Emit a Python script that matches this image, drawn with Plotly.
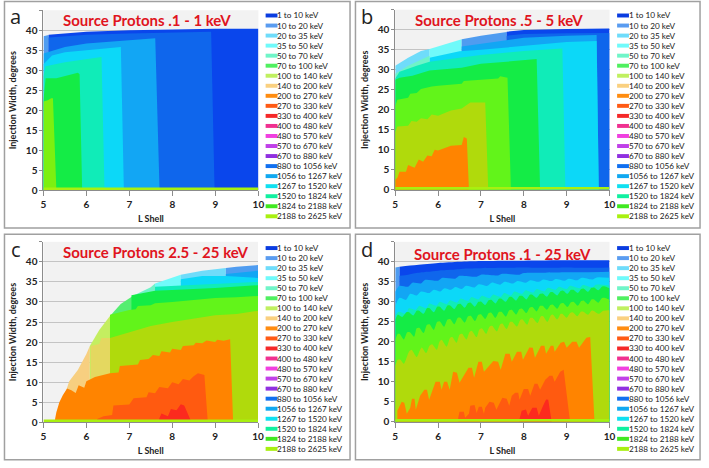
import plotly.graph_objects as go

W, H = 709, 468

legend_labels = [
    "1 to 10 keV", "10 to 20 keV", "20 to 35 keV", "35 to 50 keV", "50 to 70 keV",
    "70 to 100 keV", "100 to 140 keV", "140 to 200 keV", "200 to 270 keV", "270 to 330 keV",
    "330 to 400 keV", "400 to 480 keV", "480 to 570 keV", "570 to 670 keV", "670 to 880 keV",
    "880 to 1056 keV", "1056 to 1267 keV", "1267 to 1520 keV", "1520 to 1824 keV",
    "1824 to 2188 keV", "2188 to 2625 keV",
]
legend_colors = [
    "#0a3ce0", "#5a9cf0", "#6fdcfa", "#70fafa", "#70f5c8", "#50f060", "#c0f060", "#fad080",
    "#ff8c10", "#ff5a14", "#f52828", "#f03090", "#f040e0", "#c040e8", "#9030e0", "#1070f0",
    "#10a8f0", "#10e0f0", "#10f0a0", "#40e820", "#a8f010",
]

# colours as they look inside the plots
DEEP, ROYAL, SKY, CYAN, TEAL, GREEN = "#0a46ec", "#0f66ec", "#12a6f4", "#0cd8f8", "#10ecb8", "#14ec46"
LIME, OLIVE, ORANGE, REDOR, RED, STRIPE = "#62f41a", "#b0da0c", "#ff8400", "#ff5a10", "#fc2a1e", "#a8f010"
P_BLUE, P_CYAN, P_AQUA, P_TEAL, P_GREEN, P_LIME, P_TAN, P_OLIVE = (
    "#4f9cf0", "#6fdcfa", "#70fafa", "#6ff3c8", "#55ee70", "#c4ee60", "#f7cf80", "#e4d860")

# --- panel a: L shell / injection width outlines
a_pale_L = [5, 5.12]
a_pale_w = [38.5, 38.8]
a_deep_L = [5.12, 6, 7, 8, 9, 10]
a_deep_w = [38.9, 39.6, 40, 40.2, 40.4, 40.4]
a_royal_L = [5.12, 6, 7, 8, 8.9, 8.98]
a_royal_w = [38.2, 38.9, 39.2, 39.4, 39.6, 0]
a_sky_L = [5, 5.5, 6, 7, 7.6, 7.7]
a_sky_w = [34.2, 35.8, 36.7, 37.4, 38, 0]
a_cyan_L = [5, 5.2, 5.5, 6, 6.8, 6.87]
a_cyan_w = [31.5, 33.7, 34.5, 35, 35.8, 0]
a_teal_L = [5, 5.05, 5.5, 6, 6.35, 6.42]
a_teal_w = [28.5, 31, 32, 32.8, 33.3, 0]
a_green_L = [5, 5.05, 5.3, 5.5, 5.8, 5.84, 5.9]
a_green_w = [22.5, 28, 28, 28.5, 29.4, 29, 0]
a_lime_L = [5, 5.1, 5.18, 5.22, 5.3]
a_lime_w = [22.2, 22.5, 23, 23, 0]

# --- panel b
b_top1_L = [5, 5.3, 5.6, 5.8]
b_top1_w = [31, 33, 34.7, 35.2]
b_top2_L = [5.8, 6.2, 6.55]
b_top2_w = [35.2, 36.5, 37.6]
b_top3_L = [6.55, 7, 7.6]
b_top3_w = [37.6, 38.5, 39.4]
b_deep_L = [7.6, 8, 9, 10]
b_deep_w = [39.5, 39.9, 40.2, 40.3]
b_royal_L = [7.6, 8, 9, 10]
b_royal_w = [38.5, 38.9, 39.1, 39.2]
b_sky_L = [6.55, 7, 7.6, 8, 9, 9.7, 9.75]
b_sky_w = [35.8, 36.5, 37.5, 38, 38.5, 38.7, 0]
b_cyan_L = [5.8, 6.5, 7, 8, 9, 9.7, 9.75]
b_cyan_w = [33, 34.6, 35, 36, 36.9, 37.2, 0]
b_pteal_L = [5, 5.3, 5.8]
b_pteal_w = [29, 31, 33.5]
b_teal_L = [5, 5.1, 5.5, 5.8, 6.5, 7, 7.5, 8, 8.9, 8.97]
b_teal_w = [27.8, 29.5, 31, 32, 33, 33.7, 34.2, 34.7, 35.3, 0]
b_green_L = [5, 5.1, 5.4, 5.8, 6.55, 7, 7.6, 8.3, 8.38]
b_green_w = [27.5, 28, 28.5, 29.8, 30.5, 31.5, 32, 32.7, 0]
b_lime_L = [5, 5.05, 5.3, 5.35, 5.5, 5.6, 5.85, 6, 6.55, 6.6, 7, 7.4, 7.45, 7.62, 7.7]
b_lime_w = [21, 22.5, 23, 24, 24.2, 25.2, 25.8, 26, 26.5, 27.2, 27.5, 27.8, 28.4, 28, 0]
b_olive_L = [5, 5.05, 5.3, 5.38, 5.5, 5.6, 5.75, 5.85, 6, 6.3, 6.55, 6.75, 7.1, 7.17]
b_olive_w = [14.5, 15.8, 16, 17.2, 17, 17.9, 17.6, 18.8, 18.5, 19.8, 20.3, 21.8, 21.8, 0]
b_orange_L = [5, 5.05, 5.1, 5.25, 5.3, 5.45, 5.55, 5.65, 5.75, 5.85, 5.92, 6, 6.3, 6.55, 6.6, 6.67, 6.72]
b_orange_w = [2.5, 3, 4.5, 4.5, 6.2, 5.5, 7.6, 7, 8.6, 8.4, 10, 9.8, 11, 11.2, 13.2, 12.8, 0]

# --- panel c
c_top1_L = [5.5, 5.6, 5.8, 6, 6.08]
c_top1_w = [7, 10.2, 13, 17, 19]
c_top2_L = [6.08, 6.3, 6.55]
c_top2_w = [19, 23, 26.5]
c_top3_L = [6.55, 6.8, 7.1]
c_top3_w = [26.5, 29.5, 31.6]
c_top4_L = [7.1, 7.5, 7.6]
c_top4_w = [31.6, 33.7, 34.6]
c_top5_L = [7.6, 8, 8.2]
c_top5_w = [34.6, 36, 36.8]
c_top6_L = [8.2, 8.7, 9.25]
c_top6_w = [36.8, 37.8, 38.5]
c_top7_L = [9.25, 9.5, 10]
c_top7_w = [38.5, 38.8, 39.2]
c_sky_L = [9.25, 10]
c_sky_w = [37, 37.8]
c_cyan_L = [8.2, 8.7, 9.25, 10]
c_cyan_w = [35.7, 36.5, 36.5, 36]
c_teal_L = [7.6, 8, 9, 10]
c_teal_w = [33.8, 34, 34.5, 35]
c_green_L = [7.05, 7.6, 8, 9, 10]
c_green_w = [31.7, 32.8, 33, 33.5, 34.2]
c_lime_L = [6.55, 7, 7.15, 7.2, 7.5, 7.6, 8, 8.5, 9, 9.5, 10]
c_lime_w = [26.8, 28, 28.2, 29, 29.2, 29.7, 30, 30.5, 31, 31.2, 31.5]
c_polive_L = [6.1, 6.3, 6.35, 6.55]
c_polive_w = [19, 19.5, 21, 21]
c_olive_L = [6.55, 7, 7.5, 8, 8.5, 9, 9.5, 10]
c_olive_w = [21, 22.4, 24, 25, 25.8, 26.7, 27, 27.8]
c_orange_L = [5.27, 5.3, 5.37, 5.45, 5.55, 5.65, 5.75, 5.82, 5.95, 6, 6.2, 6.55, 6.75, 6.78, 7, 7.2, 7.25,
              7.45, 7.55, 7.7, 7.75, 7.95, 8, 8.2, 8.25, 8.5, 8.55, 8.7, 8.8, 9, 9.05, 9.2, 9.35, 9.42]
c_orange_w = [0.8, 2.5, 5, 6.7, 8.4, 8, 7.3, 9.2, 8.6, 10.2, 11.3, 12.2, 12.4, 14, 14.2, 14.4, 15.5,
              15.8, 16.8, 16.5, 17.7, 17.4, 18.3, 18, 19, 19.2, 19.8, 19.7, 20.4, 20, 20.6, 20.3, 20.7, 0]
c_redor_L = [6.25, 6.4, 6.6, 6.63, 7, 7.1, 7.4, 7.45, 7.6, 7.7, 7.9, 8, 8.15, 8.25, 8.4, 8.5, 8.6, 8.75, 8.83]
c_redor_w = [0.8, 1.5, 1.8, 4.2, 4.4, 6, 6.2, 7.5, 7.2, 8.8, 8.5, 10, 9.5, 10.8, 10.4, 11.5, 12.2, 11.8, 0]
c_red_L = [7.7, 7.75, 7.9, 7.97, 8.1, 8.2, 8.28, 8.35, 8.45]
c_red_w = [1, 2.2, 1.5, 3.3, 3, 4.5, 4.2, 2.5, 0]

# --- panel d
d_pale_L = [5, 5.1]
d_pale_w = [38.6, 38.8]
d_deep_L = [5.1, 5.5, 6, 6.5, 7, 8, 9, 10]
d_deep_w = [38.8, 39.2, 39.7, 40, 40.2, 40.3, 40.4, 40.4]
d_royal_L = [5.1, 5.3, 5.5, 5.75, 6, 6.3, 6.6, 7, 7.5, 8, 8.5, 9, 9.5, 10]
d_royal_w = [36.5, 36.8, 37.2, 37.5, 37.8, 38, 38.3, 38.4, 38.5, 38.6, 38.5, 38.6, 38.5, 38.6]
d_sky_L = [5, 5.1, 5.3, 5.4, 5.6, 5.7, 6, 6.1, 6.4, 6.5, 6.9, 7, 7.4, 7.5, 7.9, 8, 8.5, 9, 9.5, 10]
d_sky_w = [32.5, 34, 33.8, 34.8, 34.6, 35.5, 35.3, 36, 35.8, 36.5, 36.3, 36.8, 36.6, 37, 36.8, 37.2, 37.3, 37.4, 37.4, 37.5]
d_cyan_L = [5, 5.1, 5.25, 5.35, 5.5, 5.6, 5.8, 5.9, 6.05, 6.15, 6.3, 6.4, 6.55, 6.65, 6.85, 6.95, 7.15, 7.25,
            7.45, 7.55, 7.75, 7.85, 8.05, 8.15, 8.35, 8.45, 8.65, 8.75, 8.95, 9.05, 9.25, 9.35, 9.6, 9.7, 10]
d_cyan_w = [29, 31, 30.5, 32, 31.6, 32.6, 32.2, 33, 32.6, 33.4, 33, 33.7, 33.2, 34, 33.6, 34.4, 34, 34.8,
            34.3, 35, 34.6, 35.2, 34.8, 35.4, 35, 35.6, 35.2, 35.7, 35.3, 35.8, 35.4, 36, 35.6, 36.1, 36]
d_teal_L = [5, 5.08, 5.25, 5.32, 5.48, 5.56, 5.72, 5.8, 5.96, 6.04, 6.2, 6.28, 6.44, 6.52, 6.7, 6.78, 6.94, 7.02,
            7.2, 7.28, 7.46, 7.54, 7.7, 7.78, 7.96, 8.04, 8.22, 8.3, 8.48, 8.56, 8.74, 8.82, 9, 9.08, 9.3, 9.38, 9.6, 9.68, 10]
d_teal_w = [26.5, 27.5, 27, 28.4, 28, 29, 28.4, 29.6, 29, 30, 29.4, 30.4, 29.8, 30.8, 30.2, 31.2, 30.6, 31.5,
            30.9, 31.8, 31.2, 32.2, 31.6, 32.6, 32, 32.9, 32.3, 33.2, 32.6, 33.5, 33, 33.8, 33.2, 34, 33.4, 34.2, 33.6, 34.3, 34.1]
d_green_L = [5, 5.06, 5.16, 5.26, 5.32, 5.42, 5.5, 5.56, 5.66, 5.74, 5.8, 5.9, 5.98, 6.04, 6.14, 6.22, 6.28, 6.38,
             6.46, 6.52, 6.62, 6.7, 6.76, 6.86, 6.94, 7, 7.1, 7.18, 7.24, 7.34, 7.42, 7.48, 7.58, 7.66, 7.72, 7.82,
             7.9, 7.96, 8.06, 8.14, 8.2, 8.3, 8.38, 8.44, 8.54, 8.62, 8.68, 8.78, 8.86, 8.92, 9.02, 9.1, 9.16, 9.26,
             9.34, 9.4, 9.5, 9.58, 9.64, 9.74, 9.82, 9.88, 10]
d_green_w = [25.5, 26.8, 26.2, 27.4, 27.4, 26.6, 27.8, 27.8, 27, 28.4, 28.4, 27.4, 28.8, 28.8, 27.8, 29.1, 29.1, 28.2,
             29.4, 29.5, 28.5, 29.7, 29.8, 28.8, 30, 30.1, 29.2, 30.4, 30.5, 29.6, 30.8, 30.8, 30, 31.2, 31.2, 30.3,
             31.5, 31.5, 30.6, 31.8, 31.8, 31, 32, 32.1, 31.3, 32.4, 32.4, 31.6, 32.7, 32.8, 32, 33, 33, 32.2,
             33.2, 33.3, 32.5, 33.5, 33.6, 32.9, 33.8, 33.9, 33.4]
d_lime_L = [5, 5.06, 5.1, 5.2, 5.28, 5.34, 5.44, 5.5, 5.56, 5.66, 5.74, 5.8, 5.9, 5.98, 6.04, 6.14, 6.22, 6.28, 6.38,
            6.46, 6.52, 6.62, 6.7, 6.76, 6.86, 6.94, 7, 7.1, 7.18, 7.24, 7.34, 7.42, 7.48, 7.58, 7.66, 7.72, 7.82,
            7.9, 7.96, 8.06, 8.14, 8.2, 8.3, 8.38, 8.44, 8.54, 8.62, 8.68, 8.78, 8.86, 8.92, 9.02, 9.1, 9.16, 9.26,
            9.34, 9.4, 9.5, 9.58, 9.64, 9.74, 9.82, 9.88, 10]
d_lime_w = [20.5, 22, 22, 20.6, 22.4, 22.4, 21.3, 23.4, 23.5, 22.2, 24.3, 24.4, 23, 25, 25.1, 23.8, 25.6, 25.7, 24.4,
            26, 26, 24.8, 26.4, 26.5, 25.2, 26.8, 26.9, 25.7, 27.2, 27.3, 26, 27.5, 27.5, 26.3, 27.9, 28, 26.8,
            28.2, 28.3, 27.2, 28.6, 28.7, 27.6, 29, 29, 28, 29.2, 29.3, 28.3, 29.6, 29.7, 28.7, 29.9, 30, 29,
            30.2, 30.3, 29.4, 30.6, 30.6, 29.8, 30.9, 31, 30.5]
d_olive_L = [5, 5.06, 5.12, 5.2, 5.32, 5.38, 5.5, 5.58, 5.62, 5.72, 5.8, 5.86, 5.97, 6.03, 6.08, 6.2, 6.28, 6.33,
             6.43, 6.5, 6.56, 6.66, 6.73, 6.78, 6.9, 6.96, 7.02, 7.12, 7.2, 7.26, 7.37, 7.45, 7.5, 7.6, 7.68, 7.73,
             7.84, 7.92, 7.97, 8.08, 8.15, 8.2, 8.32, 8.4, 8.45, 8.55, 8.63, 8.68, 8.78, 8.86, 8.9, 9, 9.08, 9.14,
             9.25, 9.33, 9.38, 9.5, 9.58, 9.62, 9.75, 9.85, 10]
d_olive_w = [14, 15.5, 15.5, 14.5, 17.5, 18, 16.2, 18, 18.6, 17.2, 19, 19.4, 18, 20, 20.5, 18.8, 21, 21.2,
             19.8, 21.8, 22, 20.6, 22.4, 22.8, 21.2, 23, 23.4, 22, 23.8, 24, 22.6, 24.4, 24.6, 23.2, 25, 25,
             23.8, 25.5, 25.6, 24.3, 26, 26, 24.7, 26.4, 26.4, 25, 26.6, 26.8, 25.6, 27, 27, 26, 27.2, 27.4,
             26.4, 27.5, 27.6, 26.8, 27.8, 27.8, 27, 27.8, 27.9]
d_orange_L = [5.05, 5.15, 5.21, 5.27, 5.35, 5.39, 5.45, 5.48, 5.58, 5.68, 5.74, 5.79, 5.94, 6.04, 6.08, 6.14, 6.21,
              6.27, 6.35, 6.44, 6.5, 6.71, 6.79, 6.84, 6.94, 7.02, 7.07, 7.29, 7.4, 7.46, 7.57, 7.67, 7.72, 7.84,
              7.94, 7.98, 8.13, 8.21, 8.26, 8.4, 8.48, 8.52, 8.63, 8.69, 8.72, 8.86, 8.94, 9, 9.13, 9.23, 9.29,
              9.46, 9.55, 9.65]
d_orange_w = [2.8, 5, 4.8, 2, 3.5, 5.8, 5.8, 3, 6.5, 8, 8, 5.5, 10, 10, 8, 10, 10,
              8, 12.5, 12.3, 9.8, 13.5, 13.5, 11, 15, 15, 12.5, 15.2, 15, 13, 17, 17, 15, 17.5,
              17.5, 15.5, 18.6, 18.5, 16, 19, 19, 17, 19, 19, 17.5, 19.8, 20, 18.5, 20, 20, 18.5,
              21, 21.2, 0]
d_redor_L = [6.47, 6.5, 6.6, 6.63, 6.72, 6.75, 6.85, 6.9, 6.95, 7.02, 7.07, 7.1, 7.2, 7.3, 7.36, 7.5, 7.6, 7.66, 7.72,
             7.8, 7.87, 7.9, 8, 8.1, 8.15, 8.25, 8.32, 8.38, 8.5, 8.6, 8.67, 8.72, 8.85, 8.93, 9.08]
d_redor_w = [1, 2.5, 2.5, 1, 2, 4, 4.2, 2.2, 3.8, 3.8, 2, 3.5, 5, 4.8, 3, 6, 5.8, 4, 6.5,
             7.3, 7.3, 5.5, 8.2, 8.2, 6.5, 9.5, 9.5, 8, 10.5, 11.5, 11.5, 10, 12.5, 13, 0]
d_red_L = [7.9, 7.95, 8.05, 8.1, 8.15, 8.2, 8.3, 8.35, 8.45, 8.52, 8.57, 8.65]
d_red_w = [0.7, 2.8, 3.1, 1.5, 2.5, 3.5, 3.5, 1.5, 4, 5.6, 5.5, 0]

# thin line of the lowest bin, same in every panel
stripe_L = [5, 10]
stripe_w = [0.7, 0.7]

FONT = "Lato"


def px(x):
    return x / W


def py(y):
    return 1 - y / H


# painted outermost first, the inner ones cover the rest down to zero
panels = [
    dict(letter="a", title="Source Protons .1 - 1 keV", box=(41, 258.7, 10.4, 192.7), border=(1.5, 351.5, 1.5, 231),
         legend=(266, 15.7), title_pos=(146, 20), bands=[
            (a_pale_L, a_pale_w, P_BLUE), (a_deep_L, a_deep_w, DEEP), (a_royal_L, a_royal_w, ROYAL),
            (a_sky_L, a_sky_w, SKY), (a_cyan_L, a_cyan_w, CYAN), (a_teal_L, a_teal_w, TEAL),
            (a_green_L, a_green_w, GREEN), (a_lime_L, a_lime_w, "#7cf010"),
         ]),
    dict(letter="b", title="Source Protons .5 - 5 keV", box=(397.3, 614.3, 9.8, 192.3), border=(357, 706, 1.5, 231),
         legend=(622, 15.7), title_pos=(502, 20), bands=[
            (b_top1_L, b_top1_w, P_CYAN), (b_top2_L, b_top2_w, P_AQUA), (b_top3_L, b_top3_w, P_BLUE),
            (b_deep_L, b_deep_w, DEEP), (b_royal_L, b_royal_w, ROYAL), (b_sky_L, b_sky_w, SKY),
            (b_cyan_L, b_cyan_w, CYAN), (b_pteal_L, b_pteal_w, P_TEAL), (b_teal_L, b_teal_w, TEAL),
            (b_green_L, b_green_w, GREEN), (b_lime_L, b_lime_w, LIME), (b_olive_L, b_olive_w, OLIVE),
            (b_orange_L, b_orange_w, ORANGE),
         ]),
    dict(letter="c", title="Source Protons 2.5 - 25 keV", box=(41, 258.3, 245, 427.7), border=(1.5, 351.5, 237.3, 465.7),
         legend=(266, 251.3), title_pos=(154.5, 255), bands=[
            (c_top1_L, c_top1_w, P_TAN), (c_top2_L, c_top2_w, P_LIME), (c_top3_L, c_top3_w, P_GREEN),
            (c_top4_L, c_top4_w, P_TEAL), (c_top5_L, c_top5_w, P_AQUA), (c_top6_L, c_top6_w, P_CYAN),
            (c_top7_L, c_top7_w, P_BLUE), (c_sky_L, c_sky_w, SKY), (c_cyan_L, c_cyan_w, CYAN),
            (c_teal_L, c_teal_w, TEAL), (c_green_L, c_green_w, GREEN), (c_lime_L, c_lime_w, LIME),
            (c_polive_L, c_polive_w, P_OLIVE), (c_olive_L, c_olive_w, OLIVE), (c_orange_L, c_orange_w, ORANGE),
            (c_redor_L, c_redor_w, REDOR), (c_red_L, c_red_w, RED),
         ]),
    dict(letter="d", title="Source Protons .1 - 25 keV", box=(397.3, 614.3, 245, 427.3), border=(357, 706, 237.3, 465.7),
         legend=(622, 251.3), title_pos=(506, 257), bands=[
            (d_pale_L, d_pale_w, P_BLUE), (d_deep_L, d_deep_w, DEEP), (d_royal_L, d_royal_w, ROYAL),
            (d_sky_L, d_sky_w, SKY), (d_cyan_L, d_cyan_w, CYAN), (d_teal_L, d_teal_w, TEAL),
            (d_green_L, d_green_w, GREEN), (d_lime_L, d_lime_w, LIME), (d_olive_L, d_olive_w, OLIVE),
            (d_orange_L, d_orange_w, ORANGE), (d_redor_L, d_redor_w, REDOR), (d_red_L, d_red_w, RED),
         ]),
]

fig = go.Figure()
shapes, annotations = [], []
layout_axes = {}

for i, p in enumerate(panels):
    n = "" if i == 0 else str(i + 1)
    x0, x1, y0, y1 = p["box"]

    for xs, ys, color in p["bands"] + [(stripe_L, stripe_w, STRIPE)]:
        # panel d has rounded scallops, but a spline would overshoot the steep drop to zero
        shape = "spline" if p["letter"] == "d" and ys[-1] > 0 else "linear"
        fig.add_trace(go.Scatter(x=xs, y=ys, mode="lines", fill="tozeroy", fillcolor=color,
                                 line=dict(width=0, color=color, shape=shape, smoothing=0.7), showlegend=False,
                                 xaxis="x" + n, yaxis="y" + n, hoverinfo="x+y"))

    layout_axes["xaxis" + n] = dict(
        domain=[px(x0), px(x1)], range=[5, 10], anchor="y" + n, tickvals=[5, 6, 7, 8, 9, 10],
        ticks="outside", ticklen=5, tickcolor="#8c8c8c", showgrid=False, showline=True, linecolor="#8c8c8c",
        tickfont=dict(family=FONT, size=10, color="#222222", weight=700),
        title=dict(text="L Shell", font=dict(family=FONT, size=9, color="#222222", weight=700), standoff=6))
    layout_axes["yaxis" + n] = dict(
        domain=[py(y1), py(y0)], range=[0, 45], anchor="x" + n,
        tickvals=[0, 5, 10, 15, 20, 25, 30, 35, 40, 45], ticktext=["0", "5", "10", "15", "20", "25", "30", "35", "40", ""],
        ticks="outside", ticklen=3, tickcolor="#8c8c8c", showgrid=True, gridcolor="#c4c4c4", gridwidth=1,
        showline=True, linecolor="#8c8c8c", zeroline=False,
        tickfont=dict(family=FONT, size=10, color="#222222", weight=700),
        title=dict(text="Injection Width, degrees", font=dict(family=FONT, size=9, color="#222222", weight=700), standoff=7))

    bx0, bx1, by0, by1 = p["border"]
    shapes.append(dict(type="rect", xref="paper", yref="paper", x0=px(bx0), x1=px(bx1), y0=py(by0), y1=py(by1),
                       line=dict(color="#a0a0a0", width=1.5)))

    annotations.append(dict(text=p["title"], xref="paper", yref="paper", x=px(p["title_pos"][0]), y=py(p["title_pos"][1]),
                            xanchor="center", yanchor="middle", showarrow=False,
                            font=dict(family=FONT, size=15, color="#e0141e", weight=700)))
    annotations.append(dict(text=p["letter"], xref="paper", yref="paper", x=px(bx0 + 11.5), y=py(by0 + 15),
                            xanchor="center", yanchor="middle", showarrow=False,
                            font=dict(family="Open Sans", size=20, color="#222222")))

    # hand-made legend, plotly's own cannot pack rows this tight
    lx, ly = p["legend"]
    for k, (label, color) in enumerate(zip(legend_labels, legend_colors)):
        yc = ly + k * 10.17
        shapes.append(dict(type="rect", xref="paper", yref="paper", x0=px(lx), x1=px(lx + 12),
                           y0=py(yc + 2), y1=py(yc - 2), fillcolor=color, line=dict(width=0)))
        annotations.append(dict(text=label, xref="paper", yref="paper", x=px(lx + 12), y=py(yc), xanchor="left",
                                yanchor="middle", showarrow=False, xshift=-2,
                                font=dict(family=FONT, size=8.2, color="#1a1a1a")))

fig.update_layout(
    width=W, height=H, margin=dict(l=0, r=0, t=0, b=0), paper_bgcolor="white", plot_bgcolor="#f2f2f2",
    shapes=shapes, annotations=annotations, showlegend=False, **layout_axes)

fig.write_html("out.html", config=dict(displayModeBar=False), post_script="document.body.style.margin='0';")
